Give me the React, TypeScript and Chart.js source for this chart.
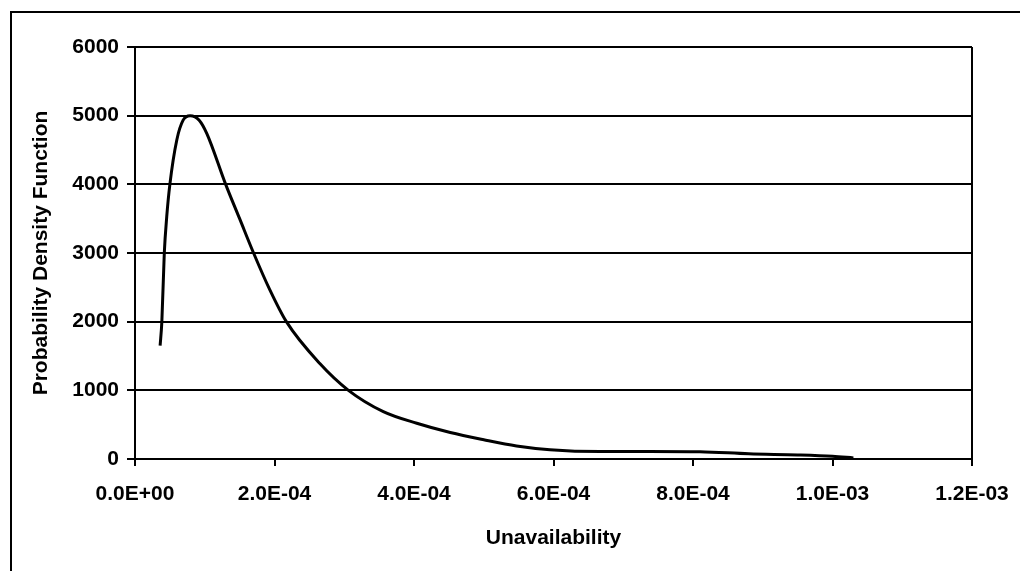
import React, { useEffect, useRef } from "react";
import { Chart, registerables } from "chart.js";

Chart.register(...registerables);

const unavailability = [
  3.6e-5, 3.85e-5, 4.2e-5, 4.55e-5, 5.0e-5, 6.0e-5, 6.9e-5, 7.9e-5, 9.2e-5, 1.03e-4,
  1.3e-4, 1.5e-4, 1.7e-4, 1.93e-4, 2.17e-4, 2.65e-4, 3.06e-4, 3.56e-4, 4.04e-4,
  4.52e-4, 5.0e-4, 5.47e-4, 5.95e-4, 6.67e-4, 7.38e-4, 8.1e-4, 8.8e-4, 9.5e-4,
  1.0e-3, 1.03e-3,
];
const pdfValues = [
  1650, 2000, 3000, 3530, 4000, 4650, 4935, 5000, 4935, 4740,
  4000, 3500, 3000, 2470, 2000, 1390, 1000, 690, 520,
  385, 280, 190, 135, 108, 110, 106, 75, 60,
  40, 15,
];
const xTickLabels = ["0.0E+00", "2.0E-04", "4.0E-04", "6.0E-04", "8.0E-04", "1.0E-03", "1.2E-03"];
const yTickLabels = ["0", "1000", "2000", "3000", "4000", "5000", "6000"];
const xTitle = "Unavailability";
const yTitle = "Probability Density Function";

const FONT = "'Liberation Sans', Arial, sans-serif";

const framePlugin = {
  id: "frame",
  afterDraw(chart: any) {
    const { ctx, chartArea } = chart;
    ctx.save();
    ctx.strokeStyle = "#000";
    ctx.lineWidth = 2;
    ctx.beginPath();
    ctx.moveTo(11, 571);
    ctx.lineTo(11, 12);
    ctx.lineTo(1020, 12);
    ctx.stroke();
    ctx.beginPath();
    ctx.moveTo(chartArea.right, chartArea.top);
    ctx.lineTo(chartArea.right, chartArea.bottom);
    ctx.stroke();
    ctx.restore();
  },
};

export default function App() {
  const ref = useRef<HTMLCanvasElement>(null);
  useEffect(() => {
    if (!ref.current) return;
    const chart = new Chart(ref.current, {
      type: "line",
      data: {
        datasets: [
          {
            data: unavailability.map((x, i) => ({ x, y: pdfValues[i] })),
            borderColor: "#000",
            borderWidth: 3,
            pointRadius: 0,
            cubicInterpolationMode: "monotone",
            fill: false,
          },
        ],
      },
      options: {
        animation: false,
        responsive: false,
        devicePixelRatio: 1,
        layout: { padding: { top: 47, right: 48, left: 0, bottom: 0 } },
        plugins: { legend: { display: false }, tooltip: { enabled: false } },
        scales: {
          x: {
            type: "linear",
            min: 0,
            max: 1.2e-3,
            afterFit: (s: any) => {
              s.height = 112;
              s.paddingLeft = 0;
              s.paddingRight = 0;
            },
            ticks: {
              stepSize: 2e-4,
              color: "#000",
              padding: 16,
              maxRotation: 0,
              font: { family: FONT, size: 21, weight: "bold" },
              callback: (_v: any, i: number) => xTickLabels[i],
            },
            grid: {
              drawOnChartArea: false,
              drawTicks: true,
              tickLength: 7,
              color: "#000",
              lineWidth: 2,
            },
            border: { display: true, color: "#000", width: 2 },
            title: {
              display: true,
              text: xTitle,
              color: "#000",
              font: { family: FONT, size: 21, weight: "bold" },
              padding: { top: 0, bottom: 20 },
            },
          },
          y: {
            min: 0,
            max: 6000,
            afterFit: (s: any) => {
              s.width = 135;
              s.paddingTop = 0;
              s.paddingBottom = 0;
            },
            ticks: {
              stepSize: 1000,
              color: "#000",
              padding: 8,
              font: { family: FONT, size: 21, weight: "bold" },
              callback: (_v: any, i: number) => yTickLabels[i],
            },
            grid: {
              color: "#000",
              lineWidth: 2,
              tickLength: 8,
            },
            border: { display: true, color: "#000", width: 2 },
            title: {
              display: true,
              text: yTitle,
              color: "#000",
              font: { family: FONT, size: 21, weight: "bold" },
              padding: { top: 29, bottom: 0 },
            },
          },
        },
      },
      plugins: [framePlugin],
    } as any);
    return () => chart.destroy();
  }, []);
  return (
    <div
      style={{
        position: "fixed",
        left: 0,
        top: 0,
        width: 1020,
        height: 571,
        background: "#fff",
        overflow: "hidden",
      }}
    >
      <canvas ref={ref} width={1020} height={571} style={{ display: "block" }} />
    </div>
  );
}
